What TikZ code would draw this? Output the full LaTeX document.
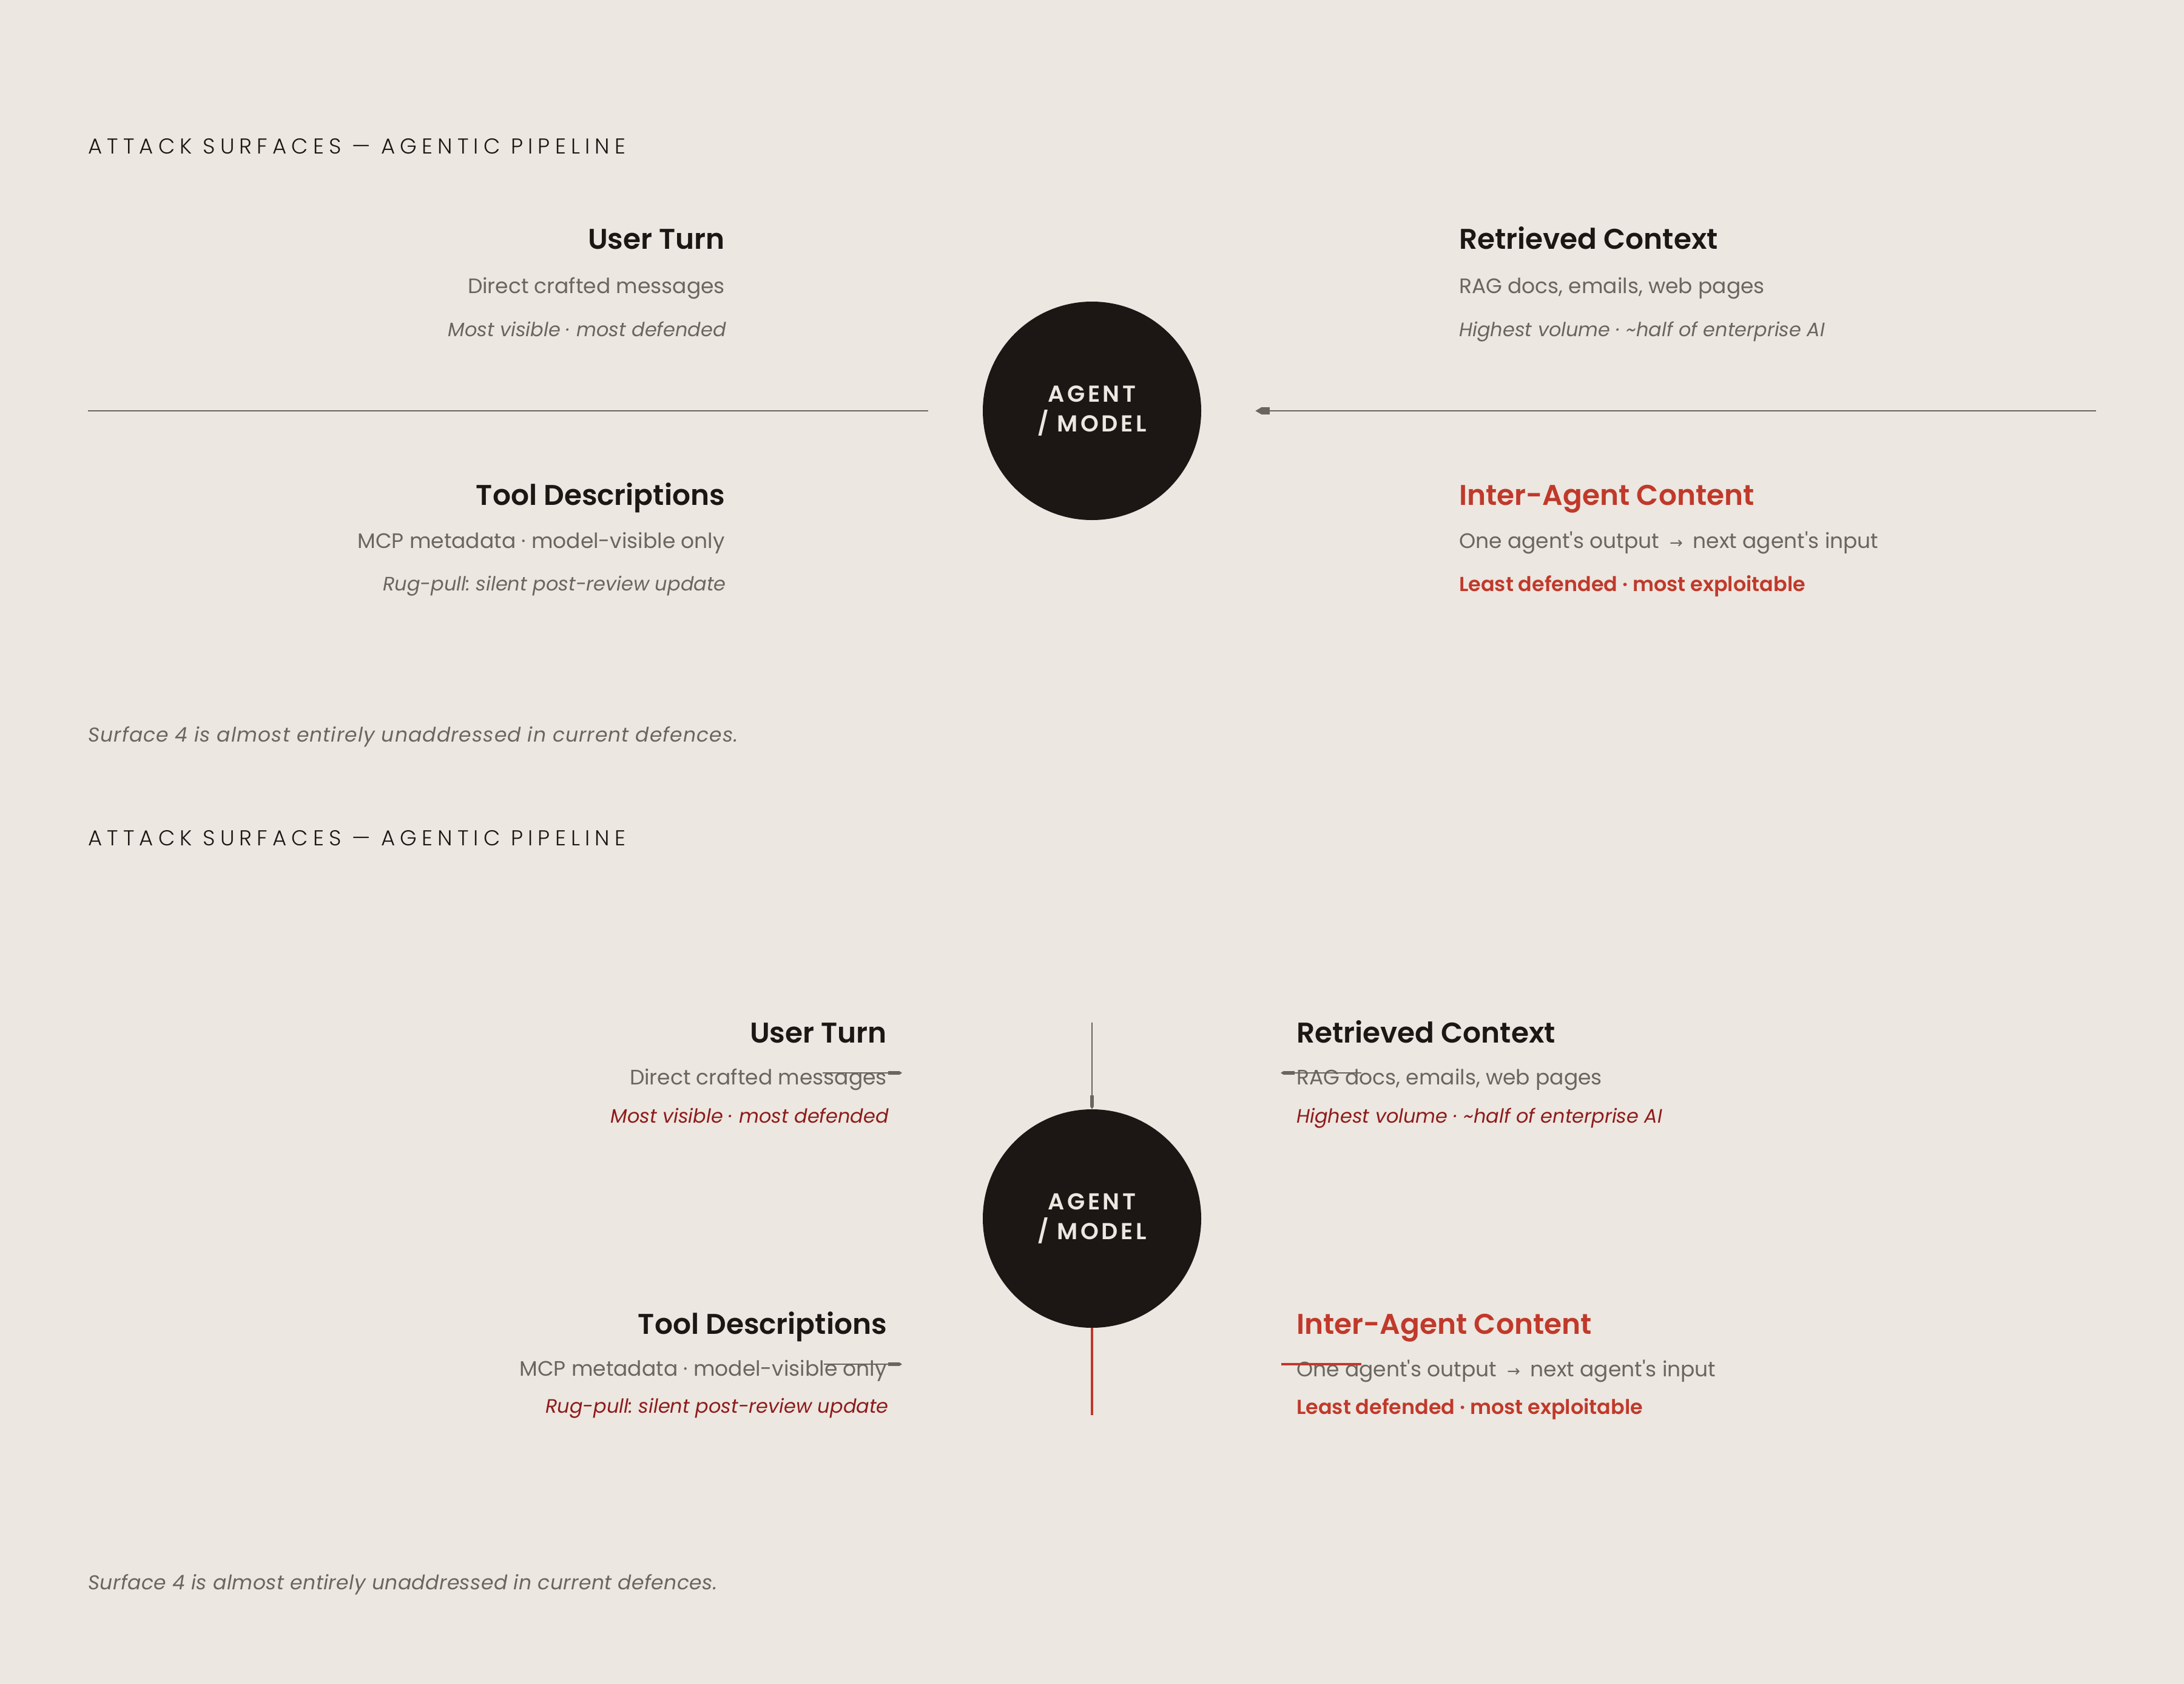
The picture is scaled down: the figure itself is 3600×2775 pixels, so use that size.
\documentclass[tikz,border=0pt]{standalone}
\usepackage{fontspec}
\usetikzlibrary{arrows.meta}
\setmainfont{Poppins}[Ligatures=TeXOff]
\newfontfamily\semib{Poppins SemiBold}[Ligatures=TeXOff]
\newfontfamily\titlef{Poppins Light}[Ligatures=TeXOff,LetterSpace=23]
\newfontfamily\agentf{Poppins SemiBold}[Ligatures=TeXOff,LetterSpace=12]
\newfontfamily\arrowf{DejaVu Sans}
\definecolor{bg}{HTML}{ECE7E0}
\definecolor{ink}{HTML}{1C1614}
\definecolor{greytxt}{HTML}{6B6560}
\definecolor{redc}{HTML}{C0392B}
\definecolor{darkred}{HTML}{8E1B1B}
\frenchspacing
\tikzset{
  ttl/.style={anchor=base west, inner sep=0pt, text=ink, font=\titlef\fontsize{35.5}{40}\selectfont},
  hdr/.style={inner sep=0pt, text=ink, font=\semib\fontsize{47}{50}\selectfont},
  bodyt/.style={inner sep=0pt, text=greytxt, font=\fontsize{34.5}{40}\selectfont},
  note/.style={inner sep=0pt, text=greytxt, font=\itshape\fontsize{32}{36}\selectfont},
  strongred/.style={inner sep=0pt, text=redc, font=\semib\fontsize{33.4}{36}\selectfont},
  lft/.style={anchor=base east},
  rgt/.style={anchor=base west},
  foot/.style={anchor=base west, inner sep=0pt, text=greytxt},
  agent/.style={circle, fill=ink, minimum size=360pt, inner sep=0pt, text=bg, align=center,
     font=\agentf\fontsize{38}{49}\selectfont},
  conn/.style={draw=greytxt, line width=2.6pt},
  bigtip/.style={-{Rectangle[length=13pt,width=12pt,sep=0pt]Triangle[length=11pt,width=12pt]}},
  smalltip/.style={-{Rectangle[length=18pt,width=6pt,sep=0pt]Triangle[length=5pt,width=6pt]}},
  redconn/.style={draw=redc, line width=4.5pt},
}
\newcommand{\rarr}{\hspace{17pt}{\arrowf\fontsize{26}{30}\selectfont →}\hspace{17pt}}
\begin{document}
\begin{tikzpicture}[x=1pt,y=-1pt]
\fill[bg] (0,0) rectangle (3600,2775);
\useasboundingbox (0,0) rectangle (3600,2775);

% ---------------- upper diagram ----------------
\node[ttl] (title1) at (145,253) {ATTACK SURFACES — AGENTIC PIPELINE};

\node[agent] (agent1) at (1800,677) {AGENT\\/ MODEL};

\node[hdr,lft] (ut1) at (1195,410) {User Turn};
\node[bodyt,lft] (ut1b) at (1195,483) {Direct crafted messages};
\node[note,lft] (ut1c) at (1197,554) {Most visible · most defended};

\node[hdr,rgt] (rc1) at (2405,410) {Retrieved Context};
\node[bodyt,rgt] (rc1b) at (2405,483) {RAG docs, emails, web pages};
\node[note,rgt] (rc1c) at (2405,554) {Highest volume · \textasciitilde half of enterprise AI};

\node[hdr,lft] (td1) at (1195,832) {Tool Descriptions};
\node[bodyt,lft] (td1b) at (1195,903) {MCP metadata · model-visible only};
\node[note,lft] (td1c) at (1197,973) {Rug-pull: silent post-review update};

\node[hdr,rgt,text=redc] (ia1) at (2405,832) {Inter-Agent Content};
\node[bodyt,rgt] (ia1b) at (2405,903) {One agent's output\rarr next agent's input};
\node[strongred,rgt] (ia1c) at (2405,974) {Least defended · most exploitable};

\node[foot,font=\itshape\addfontfeature{LetterSpace=3.3}\fontsize{33}{36}\selectfont] (fn1) at (145,1222) {Surface 4 is almost entirely unaddressed in current defences.};

\coordinate (L1) at (145,677);
\coordinate (R1) at (3455,677);
\draw[conn, shorten >=90pt] (L1) -- (agent1.west);
\draw[conn, bigtip, shorten >=89pt] (R1) -- (agent1.east);

% ---------------- lower diagram ----------------
\node[ttl] (title2) at (145,1393) {ATTACK SURFACES — AGENTIC PIPELINE};

\node[agent] (agent2) at (1800,2008) {AGENT\\/ MODEL};

\node[hdr,lft] (ut2) at (1462,1718) {User Turn};
\node[bodyt,lft] (ut2b) at (1462,1787) {Direct crafted messages};
\node[note,lft,text=darkred] (ut2c) at (1465,1850) {Most visible · most defended};

\node[hdr,rgt] (rc2) at (2137,1718) {Retrieved Context};
\node[bodyt,rgt] (rc2b) at (2137,1787) {RAG docs, emails, web pages};
\node[note,rgt,text=darkred] (rc2c) at (2137,1850) {Highest volume · \textasciitilde half of enterprise AI};

\node[hdr,lft] (td2) at (1462,2198) {Tool Descriptions};
\node[bodyt,lft] (td2b) at (1462,2267) {MCP metadata · model-visible only};
\node[note,lft,text=darkred] (td2c) at (1465,2328) {Rug-pull: silent post-review update};

\node[hdr,rgt,text=redc] (ia2) at (2137,2198) {Inter-Agent Content};
\node[bodyt,rgt] (ia2b) at (2137,2268) {One agent's output\rarr next agent's input};
\node[strongred,rgt] (ia2c) at (2137,2330) {Least defended · most exploitable};

\node[foot,font=\itshape\addfontfeature{LetterSpace=1.3}\fontsize{33}{36}\selectfont] (fn2) at (145,2619) {Surface 4 is almost entirely unaddressed in current defences.};

\coordinate (T2) at (1800,1685);
\coordinate (B2) at (1800,2332);
\draw[conn, smalltip] (T2) -- (agent2.north);
\draw[redconn] (agent2.south) -- (B2);

\coordinate (s1a) at (1356,1768); \coordinate (s1b) at (1487,1768);
\coordinate (s2a) at (2244,1768); \coordinate (s2b) at (2111,1768);
\coordinate (s3a) at (1358,2248); \coordinate (s3b) at (1487,2248);
\coordinate (s4a) at (2112,2248); \coordinate (s4b) at (2244,2248);
\draw[conn, smalltip] (s1a) -- (s1b);
\draw[conn, smalltip] (s2a) -- (s2b);
\draw[conn, smalltip] (s3a) -- (s3b);
\draw[redconn] (s4a) -- (s4b);
\end{tikzpicture}
\end{document}
